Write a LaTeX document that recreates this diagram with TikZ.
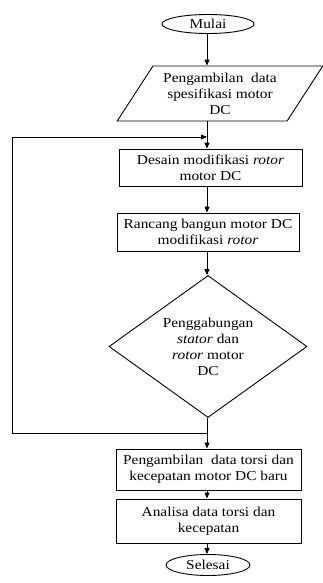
\documentclass[tikz,border=0pt]{standalone}
\usepackage{fontspec}
\setmainfont{Liberation Serif}[FakeStretch=1.13]
\usetikzlibrary{shapes.geometric,arrows.meta}
\begin{document}
\begin{tikzpicture}[x=1pt,y=-1pt,
  every node/.style={font=\fontsize{13.6}{16}\selectfont, align=center, inner sep=0pt},
  box/.style={draw, rectangle, line width=0.9pt},
  term/.style={draw, ellipse, line width=0.9pt},
  arr/.style={-{Triangle[length=6pt,width=5pt]}, line width=0.9pt},
  ln/.style={line width=0.9pt}]
\useasboundingbox (0,0) rectangle (323,583);
\node[term, minimum width=92pt, minimum height=19pt] (mulai) at (208,24) {Mulai};
\node[draw, trapezium, trapezium left angle=54, trapezium right angle=126, trapezium stretches=true, minimum width=206pt, minimum height=55pt, line width=0.9pt] (spec) at (220,93.5) {Pengambilan\ \ data\\spesifikasi motor\\DC};
\node[box, minimum width=183pt, minimum height=37pt] (desain) at (210.5,167.5) {Desain modifikasi \textit{rotor}\\motor DC};
\node[box, minimum width=182pt, minimum height=38pt] (rancang) at (208,232) {Rancang bangun motor DC\\modifikasi \textit{rotor}};
\node[draw, diamond, aspect=1.39, minimum width=198pt, minimum height=142pt, line width=0.9pt] (gabung) at (208,346.5) {Penggabungan\\\textit{stator} dan\\\textit{rotor} motor\\DC};
\node[box, minimum width=185pt, minimum height=41pt] (ambil) at (208.5,469.5) {Pengambilan\ \ data torsi dan\\kecepatan motor DC baru};
\node[box, minimum width=185pt, minimum height=44pt] (analisa) at (208.5,521) {Analisa data torsi dan\\kecepatan};
\node[term, minimum width=84pt, minimum height=21pt] (selesai) at (208,565) {Selesai};
\coordinate (k) at (207,137);
\coordinate (j) at (207,433);
\coordinate (bl) at (12,433);
\coordinate (tl) at (12,137);
\draw[arr] (mulai.south -| k) -- (k |- spec.north);
\draw[arr] (k |- spec.south) -- (k |- desain.north);
\draw[arr] (k |- desain.south) -- (k |- rancang.north);
\draw[arr] (k |- rancang.south) -- (k |- gabung.north);
\draw[ln] (k |- gabung.south) -- (j);
\draw[arr] (j) -- (k |- ambil.north);
\draw[arr] (j) -- (bl) -- (tl) -- (k);
\draw[arr] (k |- ambil.south) -- (k |- analisa.north);
\draw[arr] (k |- analisa.south) -- (k |- selesai.north);
\end{tikzpicture}
\end{document}
